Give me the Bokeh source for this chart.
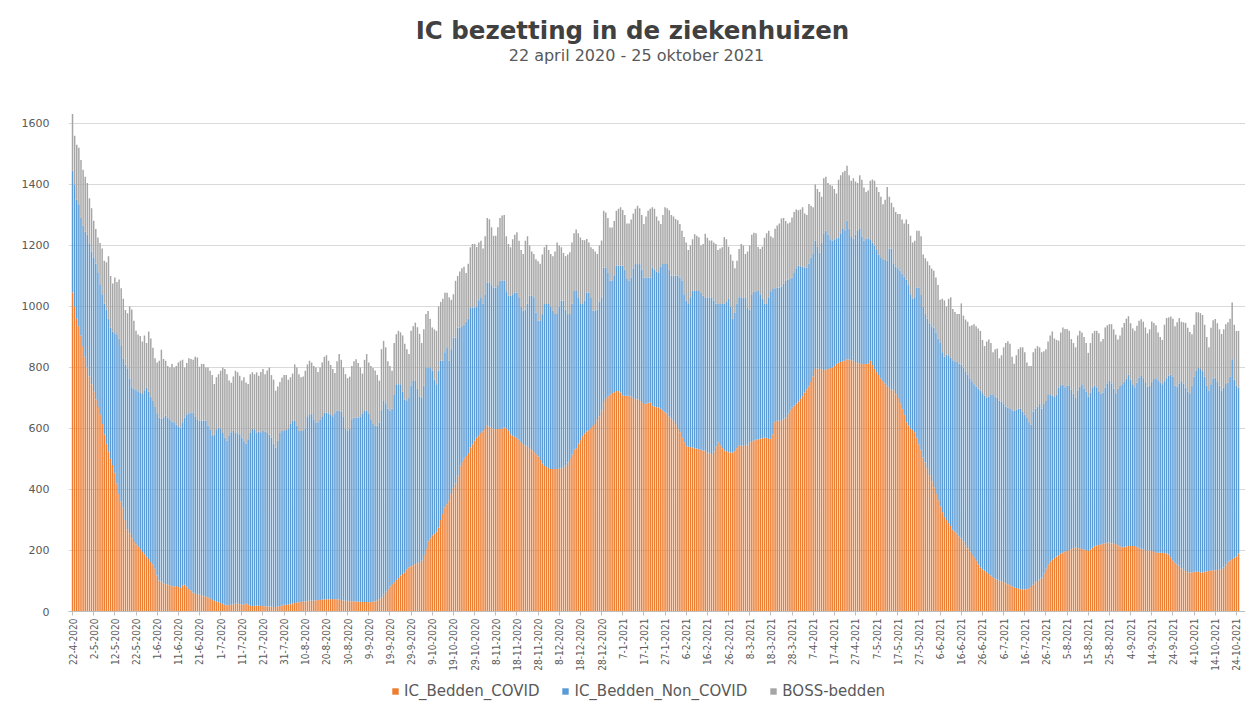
import math
import pandas as pd
from bokeh.plotting import figure
from bokeh.layouts import column
from bokeh.models import ColumnDataSource, FixedTicker, Legend, LegendItem, Label
from bokeh.embed import file_html
from bokeh.resources import INLINE

start_date = "2020-04-22"
title_text = "IC bezetting in de ziekenhuizen"
subtitle_text = "22 april 2020 - 25 oktober 2021"
series_names = ["IC_Bedden_COVID", "IC_Bedden_Non_COVID", "BOSS-bedden"]
series_colors = ["#ED7D31", "#5B9BD5", "#A5A5A5"]
y_ticks = [0, 200, 400, 600, 800, 1000, 1200, 1400, 1600]
label_every = 10

covid = [
    1046, 1000, 960, 935, 905, 870, 835, 800, 770, 745,
    720, 695, 670, 645, 615, 580, 550, 525, 500, 480,
    455, 420, 385, 360, 340, 300, 270, 255, 240, 228,
    220, 212, 205, 195, 188, 180, 172, 162, 155, 140,
    118, 102, 98, 92, 90, 88, 85, 83, 82, 84,
    80, 78, 85, 88, 82, 74, 70, 62, 58, 57,
    55, 52, 50, 48, 46, 42, 38, 35, 33, 30,
    28, 25, 22, 20, 21, 22, 24, 25, 26, 24,
    22, 24, 26, 22, 19, 18, 19, 20,
    19, 18, 18, 17, 17, 16, 16, 15, 15, 16,
    18, 20, 22, 22, 24, 24, 26, 28, 30, 30,
    31, 32, 33, 34, 35, 35, 36, 37, 38, 38,
    39, 40, 40, 40, 40, 41, 40, 40, 39, 38,
    36, 35, 35, 34, 34, 33, 33, 32, 32, 31,
    31, 31, 30, 31, 32, 33, 35, 40, 45, 55,
    65, 74, 82, 90, 96, 103, 110, 118, 123, 128,
    138, 144, 148, 152, 155, 158, 162, 166, 185, 205,
    230, 240, 250, 255, 262, 275, 300, 320, 341, 352,
    363, 385, 405, 420,
    445, 478, 490, 502, 510, 520, 538, 548, 560, 570,
    576, 585, 590, 598, 609, 606, 600, 598, 598, 598,
    598, 600, 603, 600, 592, 581, 576, 573, 570, 563,
    556, 549, 545, 540, 533, 528, 522, 515, 508, 497,
    485, 477, 474, 470, 467, 467, 467, 467, 468, 469,
    471, 478, 488, 500, 515, 530, 535, 550, 562, 575,
    583, 590, 594, 600, 608, 615, 627, 640, 660, 690,
    700, 706, 712, 716, 719, 723, 722, 718, 709, 707,
    707, 707, 705, 700, 697, 695, 690, 684, 680, 682,
    684, 685,
    674, 672, 670, 669, 665, 660, 653, 650, 640, 633,
    625, 612, 598, 588, 570, 555, 542, 540, 539, 538,
    535, 534, 532, 530, 528, 527, 522, 518, 516, 525,
    540, 554, 545, 535, 528, 526, 522, 521, 521, 525,
    535, 543, 543, 543, 543, 548, 555, 559, 561, 563,
    565, 567, 568, 570, 569, 566, 566, 580, 620, 625,
    625, 625, 630, 637, 648, 660, 669, 675, 682, 689,
    697, 706, 718, 728, 738, 752, 770, 795, 797, 795,
    793, 792, 793, 795, 798, 800, 805, 812, 815, 818,
    820, 822,
    827, 826, 824, 822, 818, 814, 812, 811, 811, 811,
    814, 822, 808, 795, 785, 775, 765, 756, 748, 740,
    733, 728, 724, 712, 700, 683, 665, 645, 620, 610,
    600, 595, 588, 570, 548, 530, 505, 488, 470, 447,
    427, 407, 385, 365, 344, 325, 310, 300, 290, 280,
    268, 262, 256, 247, 240, 230, 217, 207, 197, 185,
    176, 166, 154, 144, 138, 134, 129, 123, 118, 113,
    108, 105, 101, 99, 97, 92, 89, 86, 82, 79,
    77, 75, 73, 73, 73, 73, 75, 80, 88, 95,
    100, 105,
    111, 125, 140, 155, 165, 170, 175, 180, 184, 190,
    193, 196, 198, 200, 204, 208, 210, 208, 206, 205,
    203, 201, 199, 203, 209, 214, 216, 218, 220, 222,
    223, 225, 226, 223, 222, 221, 216, 213, 210, 212,
    214, 215, 215, 215, 215, 212, 209, 206, 204, 202,
    200, 199, 198, 195, 193, 193, 193, 193, 192, 190,
    188, 178, 168, 160, 155, 150, 142, 137, 133, 129,
    128, 129, 130, 131, 130, 129, 128, 130, 131, 133,
    134, 135, 135, 136, 137, 139, 145, 155, 163, 168,
    172, 176, 180, 190,
]

non_covid = [
    399, 400, 390, 400, 385, 395, 410, 435, 435, 435,
    441, 445, 440, 425, 425, 430, 440, 435, 430, 438,
    457, 489, 510, 510, 490, 510, 525, 510, 495, 502,
    505, 510, 511, 518, 537, 554, 548, 543, 535, 530,
    532, 533, 534, 545, 552, 547, 543, 539, 538, 528,
    525, 525, 533, 547, 565, 576, 582, 590, 582, 573,
    570, 573, 575, 577, 564, 553, 537, 545, 562, 573,
    570, 560, 548, 540, 554, 566, 568, 563, 558, 557,
    548, 534, 524, 543, 566, 580, 576, 565,
    571, 570, 574, 573, 568, 564, 554, 535, 523, 544,
    567, 572, 570, 573, 576, 591, 599, 597, 580, 562,
    561, 560, 567, 606, 612, 612, 594, 583, 582, 592,
    601, 612, 612, 610, 605, 599, 610, 618, 619, 617,
    604, 565, 557, 566, 596, 603, 603, 604, 608, 619,
    627, 627, 620, 599, 583, 576, 574, 580, 615, 635,
    615, 591, 576, 575, 614, 642, 635, 627, 597, 567,
    552, 556, 592, 604, 601, 572, 543, 536, 555, 595,
    570, 560, 540, 505, 483, 515, 522, 502, 509, 514,
    459, 475, 493, 478,
    486, 453, 445, 438, 440, 440, 459, 449, 437, 430,
    444, 445, 420, 442, 470, 473, 470, 464, 464, 472,
    486, 484, 481, 450, 443, 454, 464, 473, 476, 467,
    444, 437, 445, 470, 502, 507, 508, 465, 445, 456,
    490, 531, 534, 538, 533, 518, 508, 508, 532, 550,
    548, 512, 487, 475, 495, 521, 516, 480, 446, 433,
    437, 456, 452, 430, 378, 371, 363, 375, 370, 438,
    428, 404, 372, 368, 381, 411, 412, 416, 425, 413,
    383, 377, 390, 425, 442, 444, 449, 436, 415, 413,
    411, 410,
    454, 448, 445, 443, 465, 479, 486, 489, 480, 468,
    476, 489, 503, 507, 514, 485, 477, 468, 491, 513,
    516, 517, 519, 515, 507, 503, 508, 512, 514, 495,
    470, 454, 463, 473, 482, 489, 503, 479, 439, 455,
    475, 487, 487, 487, 487, 447, 435, 481, 487, 487,
    486, 473, 457, 440, 439, 464, 484, 477, 440, 437,
    437, 440, 445, 447, 440, 432, 426, 435, 443, 445,
    435, 424, 410, 400, 402, 408, 402, 420, 398, 382,
    417, 448, 455, 440, 422, 416, 415, 412, 411, 422,
    434, 428,
    454, 429, 404, 400, 417, 436, 442, 419, 405, 412,
    410, 396, 402, 405, 400, 395, 396, 399, 404, 410,
    457, 462, 415, 418, 425, 435, 443, 453, 468, 460,
    440, 430, 442, 492, 514, 510, 495, 487, 490, 498,
    508, 524, 530, 530, 536, 525, 525, 542, 550, 553,
    556, 558, 562, 566, 570, 570, 568, 569, 568, 567,
    569, 572, 576, 580, 578, 574, 573, 582, 592, 599,
    597, 595, 591, 589, 583, 580, 579, 578, 578, 579,
    585, 590, 591, 582, 572, 563, 545, 532, 567, 570,
    572, 575,
    554, 555, 550, 555, 547, 538, 528, 530, 550, 552,
    550, 539, 542, 542, 524, 507, 492, 517, 532, 540,
    529, 519, 506, 515, 526, 526, 519, 504, 495, 496,
    511, 523, 530, 523, 508, 492, 514, 527, 535, 541,
    548, 561, 545, 530, 520, 538, 557, 566, 561, 550,
    537, 541, 556, 567, 572, 565, 557, 552, 563, 575,
    585, 598, 602, 580, 583, 598, 613, 611, 601, 591,
    585, 611, 640, 659, 670, 666, 660, 640, 609, 591,
    611, 628, 632, 619, 603, 586, 590, 593, 588, 602,
    655, 584, 560, 544,
]

boss = [
    186, 160, 180, 185, 190, 183, 180, 170, 150, 142,
    120, 114, 116, 138, 150, 140, 155, 205, 170, 157,
    183, 171, 193, 190, 195, 178, 183, 235, 255, 223,
    195, 186, 187, 172, 180, 146, 198, 190, 175, 160,
    166, 187, 226, 191, 180, 170, 172, 189, 180, 193,
    211, 219, 207, 165, 168, 180, 176, 173, 195, 203,
    177, 186, 186, 175, 190, 194, 200, 166, 173, 175,
    191, 215, 225, 218, 182, 162, 178, 201, 200, 192,
    187, 210, 201, 181, 193, 186, 183, 199,
    183, 197, 203, 188, 205, 220, 205, 210, 186, 178,
    167, 175, 183, 180, 160, 153, 155, 185, 190, 186,
    176, 178, 189, 170, 175, 169, 175, 180, 165, 170,
    176, 183, 188, 172, 163, 155, 132, 162, 186, 170,
    160, 178, 173, 170, 175, 184, 191, 179, 160, 130,
    167, 186, 166, 175, 183, 181, 166, 137, 200, 197,
    186, 155, 147, 124, 170, 164, 175, 170, 185, 183,
    170, 144, 180, 179, 191, 202, 205, 178, 185, 175,
    185, 160, 141, 165, 175, 210, 193, 203, 195, 179,
    208, 162, 142, 186,
    169, 184, 190, 190, 160, 180, 197, 208, 208, 195,
    190, 185, 180, 190, 211, 207, 190, 170, 170, 190,
    206, 214, 216, 180, 170, 159, 180, 189, 197, 185,
    185, 186, 225, 220, 165, 145, 142, 175, 195, 187,
    195, 186, 194, 177, 172, 180, 205, 235, 200, 175,
    156, 175, 195, 203, 200, 189, 201, 210, 218, 210,
    197, 175, 164, 164, 202, 194, 182, 185, 186, 186,
    180, 180, 175, 175, 180, 180, 186, 191, 182, 180,
    182, 188, 190, 180, 181, 191, 183, 180, 175, 200,
    219, 225,
    197, 200, 180, 169, 140, 161, 186, 183, 195, 199,
    194, 186, 182, 175, 164, 188, 191, 177, 170, 169,
    186, 181, 176, 155, 170, 208, 195, 186, 186, 190,
    195, 177, 182, 186, 218, 205, 171, 170, 190, 145,
    140, 158, 175, 170, 142, 185, 210, 195, 194, 190,
    144, 148, 171, 215, 232, 218, 180, 168, 195, 203,
    210, 223, 215, 196, 184, 183, 197, 200, 193, 181,
    186, 195, 177, 172, 196, 170, 153, 185, 190, 198,
    150, 180, 177, 170, 178, 180, 165, 146, 189, 190,
    186, 195,
    180, 175, 184, 198, 175, 155, 176, 185, 174, 152,
    156, 194, 206, 212, 207, 205, 199, 180, 198, 242,
    170, 150, 186, 180, 178, 185, 177, 174, 197, 200,
    192, 185, 185, 186, 186, 190, 170, 183, 188, 190,
    189, 186, 180, 175, 142, 175, 185, 158, 185, 197,
    168, 162, 157, 162, 200, 170, 172, 174, 170, 186,
    197, 197, 198, 196, 174, 162, 183, 187, 170, 138,
    155, 162, 138, 152, 186, 208, 218, 214, 175, 154,
    178, 195, 202, 211, 205, 180, 185, 193, 195, 197,
    198, 186,
    185, 173, 170, 175, 193, 210, 192, 180, 154, 173,
    188, 191, 186, 178, 165, 165, 164, 180, 182, 170,
    168, 160, 143, 162, 177, 180, 185, 190, 170, 175,
    197, 190, 186, 196, 195, 194, 162, 165, 186, 193,
    198, 192, 185, 183, 185, 187, 187, 186, 185, 179,
    175, 185, 197, 184, 173, 157, 150, 145, 185, 197,
    191, 191, 190, 195, 210, 214, 195, 200, 212, 210,
    203, 169, 170, 191, 181, 183, 184, 170, 160, 142,
    185, 192, 192, 190, 185, 185, 190, 194, 197, 190,
    186, 180, 180, 186,
]

n = len(covid)
assert len(non_covid) == n and len(boss) == n, (len(covid), len(non_covid), len(boss))

dates = pd.date_range(start_date, periods=n, freq="D")
date_labels = [f"{d.day}-{d.month}-{d.year}" for d in dates]
days = list(range(n))

source = ColumnDataSource(dict(day=days, date=date_labels,
                               covid=covid, non_covid=non_covid, boss=boss))

# ---- main chart -------------------------------------------------------
p = figure(width=1245, height=676, output_backend="svg", toolbar_location=None,
           x_range=(-1.9, n + 2.3), y_range=(0, 2003),
           min_border_left=68, min_border_right=0, min_border_top=0,
           min_border_bottom=65, outline_line_color=None,
           background_fill_color="white", border_fill_color="white")

renderers = p.vbar_stack(["covid", "non_covid", "boss"], x="day", width=0.7,
                         color=series_colors, line_color=None, source=source)

tick_idx = list(range(0, n, label_every))
p.xaxis.ticker = FixedTicker(ticks=tick_idx)
p.xaxis.major_label_overrides = {i: date_labels[i] for i in tick_idx}
p.xaxis.major_label_orientation = math.pi / 2
p.xaxis.major_label_text_font = "'Liberation Sans Narrow', 'DejaVu Sans Condensed', sans-serif"
p.xaxis.major_label_text_font_size = "10px"
p.xaxis.major_label_text_color = "#595959"
p.xaxis.major_label_standoff = 3
p.xaxis.axis_line_color = "#BFBFBF"
p.xaxis.major_tick_line_color = "#BFBFBF"
p.xaxis.major_tick_out = 4
p.xaxis.major_tick_in = 0
p.xaxis.minor_tick_line_color = None

p.yaxis.ticker = FixedTicker(ticks=y_ticks)
p.yaxis.axis_line_color = None
p.yaxis.major_tick_line_color = None
p.yaxis.minor_tick_line_color = None
p.yaxis.major_label_text_font = "DejaVu Sans"
p.yaxis.major_label_text_font_size = "11px"
p.yaxis.major_label_text_color = "#595959"
p.yaxis.major_label_standoff = 13

p.xgrid.visible = False
p.ygrid.grid_line_color = "#D9D9D9"
p.ygrid.grid_line_width = 1

p.add_layout(Label(x=564, y=581, x_units="screen", y_units="screen", text=title_text,
                   text_align="center", text_baseline="middle",
                   text_font="DejaVu Sans", text_font_style="bold",
                   text_font_size="24.5px", text_color="#404040"))
p.add_layout(Label(x=568, y=556, x_units="screen", y_units="screen", text=subtitle_text,
                   text_align="center", text_baseline="middle",
                   text_font="DejaVu Sans", text_font_size="16px",
                   text_color="#595959"))

# ---- legend strip ------------------------------------------------------
pl = figure(width=1245, height=28, output_backend="svg", toolbar_location=None,
            x_range=(0, 1), y_range=(0, 1), x_axis_location=None, y_axis_location=None,
            min_border=0, outline_line_color=None,
            background_fill_color="white", border_fill_color="white")
pl.grid.visible = False
proxy = ColumnDataSource(dict(x=[0.5], top=[0]))
legend_renderers = [pl.vbar(x="x", top="top", width=0.01, color=c, line_color=None,
                            source=proxy) for c in series_colors]
legend = Legend(items=[LegendItem(label=name, renderers=[r])
                       for name, r in zip(series_names, legend_renderers)],
                orientation="horizontal", location=(323, 4),
                label_text_font="DejaVu Sans", label_text_font_size="15px",
                label_text_color="#595959", glyph_width=8, glyph_height=8,
                label_standoff=5, spacing=22, padding=0, margin=0,
                border_line_color=None, background_fill_alpha=0)
pl.add_layout(legend, "center")

layout = column(p, pl, spacing=0)
open("out.html", "w").write(file_html(layout, INLINE))
